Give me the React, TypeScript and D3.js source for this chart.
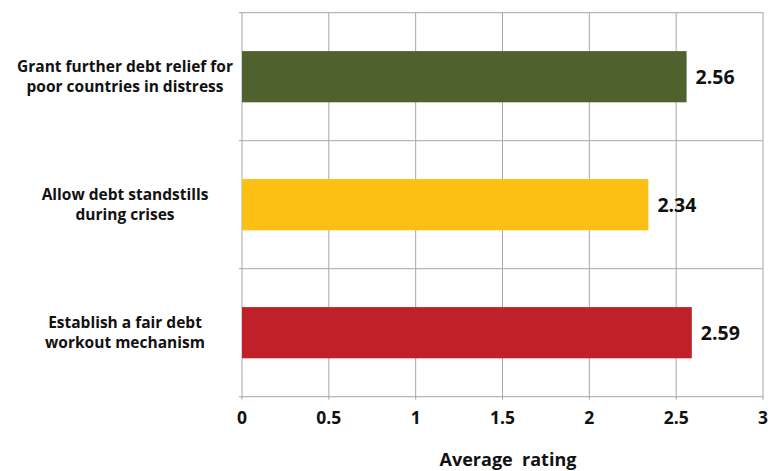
import React from "react";
import * as d3 from "d3";

const categories = [
  ["Grant further debt relief for", "poor countries in distress"],
  ["Allow debt standstills", "during crises"],
  ["Establish a fair debt", "workout mechanism"],
];
const values = [2.56, 2.34, 2.59];
const colors = ["#4f612c", "#fbc013", "#c0202a"];
const ticks = [0, 0.5, 1, 1.5, 2, 2.5, 3];
const axisTitle = "Average  rating";

const W = 777;
const H = 471;
const left = 242;
const right = 763;
const top = 12.7;
const bottom = 396.7;
const font = "'Open Sans', 'Noto Sans', sans-serif";
const grid = "#a6a6a6";

export default function App() {
  const x = d3.scaleLinear().domain([0, 3]).range([left, right]);
  const keys = categories.map((_, i) => String(i));
  const y = d3.scaleBand().domain(keys).range([top, bottom]).paddingInner(0.6).paddingOuter(0.3);
  const step = y.step();
  const bounds = d3.range(keys.length + 1).map((i) => top + i * step);

  return (
    <svg width={W} height={H} style={{ position: "absolute", left: 0, top: 0 }} fontFamily={font}>
      {ticks.map((t) => (
        <line key={"g" + t} x1={x(t)} x2={x(t)} y1={top} y2={bottom + 3} stroke={grid} strokeWidth={1} />
      ))}
      {bounds.map((b, i) => (
        <line key={"h" + i} x1={left - 3} x2={right} y1={b} y2={b} stroke={grid} strokeWidth={1} />
      ))}
      {values.map((v, i) => (
        <rect key={"b" + i} x={x(0)} y={y(String(i))} width={x(v) - x(0)} height={y.bandwidth()} fill={colors[i]} />
      ))}
      {values.map((v, i) => (
        <text key={"v" + i} x={x(v) + 9} y={(y(String(i)) as number) + y.bandwidth() / 2 + 7}
          fontSize={19.5} fontWeight="bold" fill="#111">{v.toFixed(2)}</text>
      ))}
      {categories.map((lines, i) => {
        const cy = (y(String(i)) as number) + y.bandwidth() / 2;
        return (
          <g key={"c" + i}>
            {lines.map((l, j) => (
              <text key={j} x={125} y={cy - 5 + j * 20} textAnchor="middle" fontSize={15.5} fontWeight="bold" fill="#111">{l}</text>
            ))}
          </g>
        );
      })}
      {ticks.map((t) => (
        <text key={"t" + t} x={x(t)} y={424} textAnchor="middle" fontSize={17.5} fontWeight="bold" fill="#111">{t}</text>
      ))}
      <text x={508} y={466} textAnchor="middle" fontSize={18} fontWeight="bold" fill="#111" style={{ whiteSpace: "pre" }}>{axisTitle}</text>
    </svg>
  );
}
